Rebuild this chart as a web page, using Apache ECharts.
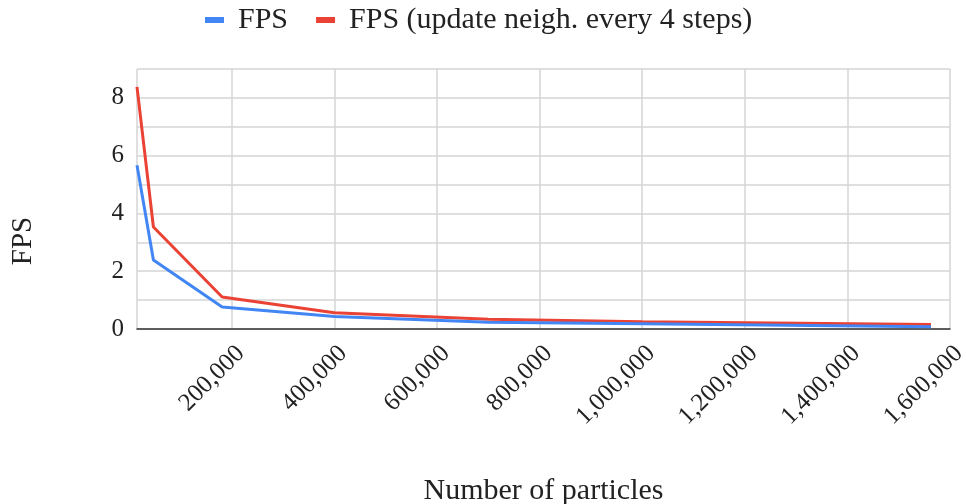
<!DOCTYPE html>
<html>
<head>
<meta charset="utf-8">
<script src="https://cdn.jsdelivr.net/npm/echarts@6/dist/echarts.min.js"></script>
<style>html,body{margin:0;padding:0;background:#fff}#c{width:966px;height:504px}</style>
</head>
<body>
<div id="c"></div>
<script>
var particles = [15000, 47000, 181000, 400000, 700000, 1000000, 1563000];
var fps = [5.67, 2.39, 0.76, 0.43, 0.23, 0.18, 0.08];
var fpsEvery4 = [8.38, 3.53, 1.11, 0.56, 0.34, 0.25, 0.16];
var seriesNames = ['FPS', 'FPS (update neigh. every 4 steps)'];
var xTitle = 'Number of particles';
var yTitle = 'FPS';

var FONT = 'Liberation Serif';
function pairs(xs, ys) { return xs.map(function (x, i) { return [x, ys[i]]; }); }

var chart = echarts.init(document.getElementById('c'), null, { renderer: 'canvas' });
chart.setOption({
  animation: false,
  backgroundColor: '#ffffff',
  color: ['#4285F4', '#EA4335'],
  legend: {
    top: 5,
    left: 205,
    padding: 0,
    icon: 'rect',
    itemWidth: 19,
    itemHeight: 6,
    itemGap: 28,
    textStyle: { fontFamily: FONT, fontSize: 30, color: '#222', padding: [0, 0, 0, 9] },
    data: seriesNames
  },
  grid: { left: 137, right: 16, top: 69, bottom: 175, containLabel: false, outerBoundsMode: 'none' },
  xAxis: {
    type: 'value',
    min: particles[0],
    max: 1600000,
    splitNumber: 8,
    name: xTitle,
    nameLocation: 'middle',
    nameGap: 147,
    nameTextStyle: { fontFamily: FONT, fontSize: 30, color: '#222' },
    axisLine: { show: true, lineStyle: { color: '#333', width: 1.5 } },
    axisTick: { show: false },
    splitLine: { show: true, lineStyle: { color: '#d4d4d4', width: 1.5 } },
    axisLabel: {
      rotate: 45,
      margin: 12,
      verticalAlign: 'top',
      showMinLabel: false,
      fontFamily: FONT, fontSize: 25, color: '#222',
      formatter: function (v) { return v < 100000 ? '' : v.toLocaleString('en-US'); }
    }
  },
  yAxis: {
    type: 'value',
    min: 0,
    max: 9,
    interval: 1,
    axisLine: { show: false },
    axisTick: { show: false },
    splitLine: { show: true, lineStyle: { color: '#d4d4d4', width: 1.5 } },
    axisLabel: {
      margin: 13,
      fontFamily: FONT, fontSize: 25, color: '#222',
      formatter: function (v) { return v % 2 === 0 ? String(v) : ''; }
    }
  },
  graphic: [{
    type: 'text',
    x: 23, y: 241,
    rotation: Math.PI / 2,
    style: { text: yTitle, font: '29px "Liberation Serif"', fill: '#222', textAlign: 'center', textVerticalAlign: 'middle' }
  }],
  series: [
    { name: seriesNames[0], type: 'line', data: pairs(particles, fps), showSymbol: false, lineStyle: { width: 3 }, z: 3 },
    { name: seriesNames[1], type: 'line', data: pairs(particles, fpsEvery4), showSymbol: false, lineStyle: { width: 3 }, z: 2 }
  ]
});
</script>
</body>
</html>
